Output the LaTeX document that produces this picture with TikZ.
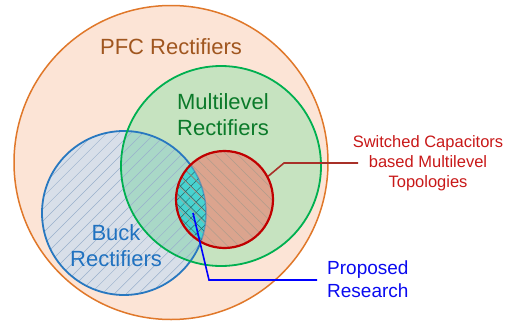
\documentclass[tikz,border=0pt]{standalone}
\usepackage{fontspec}
\setmainfont{Liberation Sans}
\usetikzlibrary{patterns.meta}

\definecolor{pfcfill}{HTML}{FCE4D6}
\definecolor{pfcline}{HTML}{E0782A}
\definecolor{pfctext}{HTML}{A0561F}
\definecolor{mlfill}{HTML}{C6E3C0}
\definecolor{mlline}{HTML}{00B050}
\definecolor{mltext}{HTML}{0B7A2A}
\definecolor{buckfill}{HTML}{D8DFE9}
\definecolor{buckline}{HTML}{2878C0}
\definecolor{bucktext}{HTML}{2072C0}
\definecolor{buckhatch}{HTML}{9AB0CC}
\definecolor{bothfill}{HTML}{A9D8C7}
\definecolor{scfill}{HTML}{DBA48E}
\definecolor{scline}{HTML}{C00000}
\definecolor{schatch}{HTML}{B09C8C}
\definecolor{scleader}{HTML}{A83028}
\definecolor{sctext}{HTML}{C81818}
\definecolor{propfill}{HTML}{48D3D0}
\definecolor{prophatch}{HTML}{2E6464}
\definecolor{proptext}{HTML}{0A0AF0}

\begin{document}
\begin{tikzpicture}[x=1pt,y=-1pt,
	ring/.style={circle,inner sep=0pt,line width=1.8pt},
	lbl/.style={inner sep=0pt,align=center,font=\fontsize{22}{26}\selectfont}]
	\useasboundingbox (0,0) rectangle (513,324);
	% Circles
	\node[ring,fill=pfcfill,draw=pfcline,line width=1.5pt,minimum size=314pt] (pfc) at (171,162.5) {};
	\node[ring,fill=mlfill,minimum size=200pt] (ml) at (221,166) {};
	\node[ring,fill=buckfill,minimum size=164pt] (buck) at (124,213) {};
	\begin{scope}
		\clip (buck.center) circle[radius=82pt];
		\fill[bothfill] (ml.center) circle[radius=100pt];
	\end{scope}
	\path[pattern={Lines[angle=45,distance=8.5pt,line width=.5pt]},pattern color=buckhatch] (buck.center) circle[radius=82pt];
	\draw[buckline,line width=1.8pt] (buck.center) circle[radius=82pt];
	\draw[mlline,line width=1.8pt] (ml.center) circle[radius=100pt];
	% Switched capacitors and the proposed part
	\node[ring,fill=scfill,minimum size=97pt] (sc) at (224.5,199.5) {};
	\begin{scope}
		\clip (buck.center) circle[radius=82pt];
		\fill[propfill] (sc.center) circle[radius=48.5pt];
		\path[pattern={Lines[angle=45,distance=7.5pt,line width=.5pt]},pattern color=prophatch] (sc.center) circle[radius=48.5pt];
		\path[pattern={Lines[angle=-45,distance=7.5pt,line width=.5pt]},pattern color=prophatch] (sc.center) circle[radius=48.5pt];
	\end{scope}
	\begin{scope}
		\clip (sc.center) circle[radius=48.5pt];
		\path[pattern={Lines[angle=-45,distance=8pt,line width=.5pt]},pattern color=schatch] (sc.center) circle[radius=48.5pt];
		\draw[buckline,line width=1.5pt,opacity=.5] (buck.center) circle[radius=82pt];
	\end{scope}
	\draw[scline,line width=2.2pt] (sc.center) circle[radius=48.5pt];
	% Labels
	\node[lbl,text=pfctext] (pfct) at (171,47) {PFC Rectifiers};
	\node[lbl,text=mltext] (mlt) at (223,115) {Multilevel\\Rectifiers};
	\node[lbl,text=bucktext] (buckt) at (116,245.5) {Buck\\Rectifiers};
	\node[lbl,text=sctext,font=\fontsize{16.5}{20}\selectfont] (sct) at (428,163.5) {Switched Capacitors\\based Multilevel\\Topologies};
	\node[lbl,text=proptext,font=\fontsize{19}{23}\selectfont,anchor=west,align=left] (propt) at (327,279.5) {Proposed\\Research};
	% Leaders
	\coordinate (scbend) at (284,163);
	\coordinate (scend) at (358,163);
	\draw[scleader,line width=1.6pt] (sc.28) -- (scbend) -- (scend);
	\coordinate (propstart) at (193,213);
	\coordinate (propbend) at (209,280);
	\draw[blue,line width=1.6pt] (propstart) -- (propbend) -- ([xshift=-10pt]propt.west |- propbend);
\end{tikzpicture}
\end{document}
